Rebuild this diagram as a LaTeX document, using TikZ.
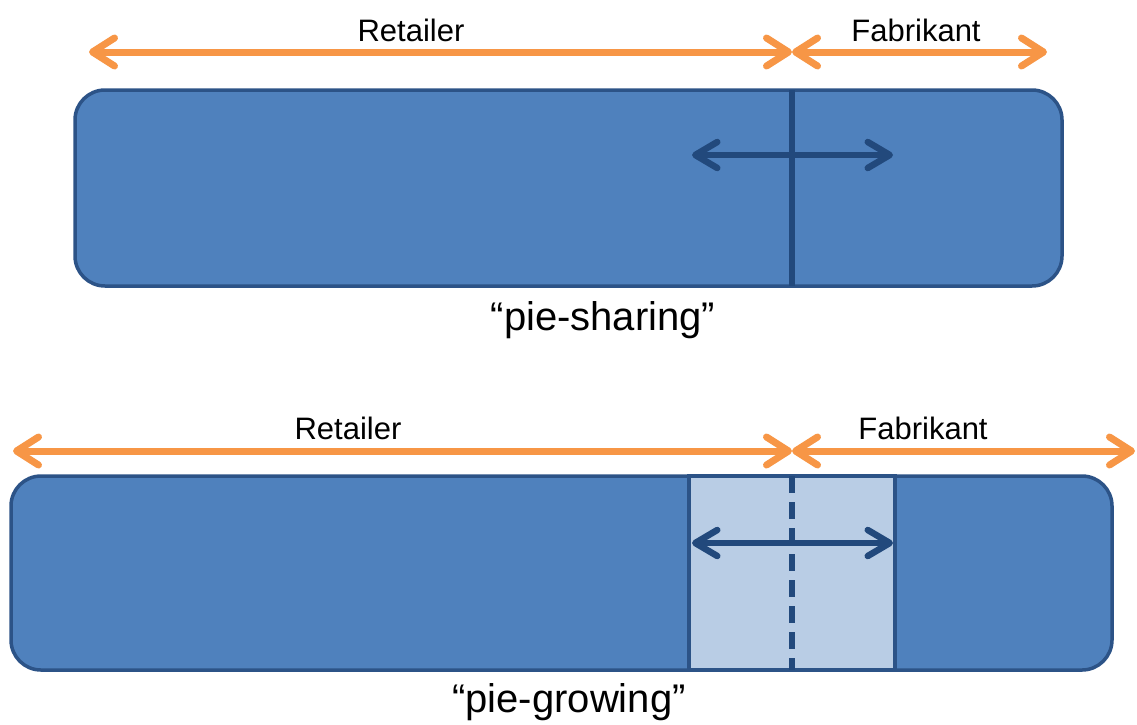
\documentclass[tikz,border=0pt]{standalone}
\usepackage{fontspec}
\setmainfont{Liberation Sans}
\usetikzlibrary{arrows.meta}

\definecolor{barblue}{HTML}{4F81BD}
\definecolor{baredge}{HTML}{2C5387}
\definecolor{divblue}{HTML}{22497C}
\definecolor{growblue}{HTML}{B9CDE5}
\definecolor{spanorange}{HTML}{F79646}

\tikzset{
  bar/.style={draw=baredge, line width=3.5pt, fill=barblue, rounded corners=30pt,
    inner sep=0pt, outer sep=0pt},
  growzone/.style={draw=baredge, line width=3.5pt, fill=growblue, inner sep=0pt, outer sep=0pt},
  spanarrow/.style={draw=spanorange, line width=7pt,
    {Straight Barb[length=22pt,width=28pt,round]}-{Straight Barb[length=22pt,width=28pt,round]}},
  movearrow/.style={draw=divblue, line width=6.5pt,
    {Straight Barb[length=22pt,width=26pt,round]}-{Straight Barb[length=22pt,width=26pt,round]}},
  divider/.style={draw=divblue, line width=5.5pt},
  partytext/.style={font=\fontsize{31}{36}\selectfont, anchor=base, inner sep=0pt},
  casetext/.style={font=\fontsize{40}{46}\selectfont, anchor=base, inner sep=0pt},
}

\begin{document}
\begin{tikzpicture}[x=1pt, y=-1pt]
  \useasboundingbox (0,0) rectangle (1137,724);

  % ---------- pie-sharing ----------
  \node[bar, minimum width=987pt, minimum height=196pt] (pieA) at (568.5,188) {};
  \coordinate (splitA) at (792,188);
  \draw[divider] (splitA |- pieA.north) -- (splitA |- pieA.south);

  \coordinate (moveAl) at (692,155);
  \coordinate (moveAr) at (893,155);
  \draw[movearrow] (moveAl) -- (moveAr);

  \coordinate (retA) at (89,52);
  \coordinate (midA) at (792,52);
  \coordinate (fabA) at (1047,52);
  \draw[spanarrow] (retA) -- (midA);
  \draw[spanarrow] (midA) -- (fabA);

  \node[partytext] (retailerA) at (411,41) {Retailer};
  \node[partytext] (fabrikantA) at (916,41) {Fabrikant};
  \node[casetext] (sharing) at (603,330) {“pie-sharing”};

  % ---------- pie-growing ----------
  \node[bar, minimum width=1101pt, minimum height=194pt] (pieB) at (561.5,573) {};
  \node[growzone, minimum width=206pt, minimum height=194pt] (grow) at (792,573) {};
  \draw[divider, dash pattern=on 17pt off 9pt] (grow.north) -- (grow.south);

  \coordinate (moveBl) at (692,543);
  \coordinate (moveBr) at (893,543);
  \draw[movearrow] (moveBl) -- (moveBr);

  \coordinate (retB) at (13,451);
  \coordinate (midB) at (792,451);
  \coordinate (fabB) at (1135,451);
  \draw[spanarrow] (retB) -- (midB);
  \draw[spanarrow] (midB) -- (fabB);

  \node[partytext] (retailerB) at (348,439) {Retailer};
  \node[partytext] (fabrikantB) at (923,439) {Fabrikant};
  \node[casetext] (growing) at (569,712) {“pie-growing”};
\end{tikzpicture}
\end{document}
